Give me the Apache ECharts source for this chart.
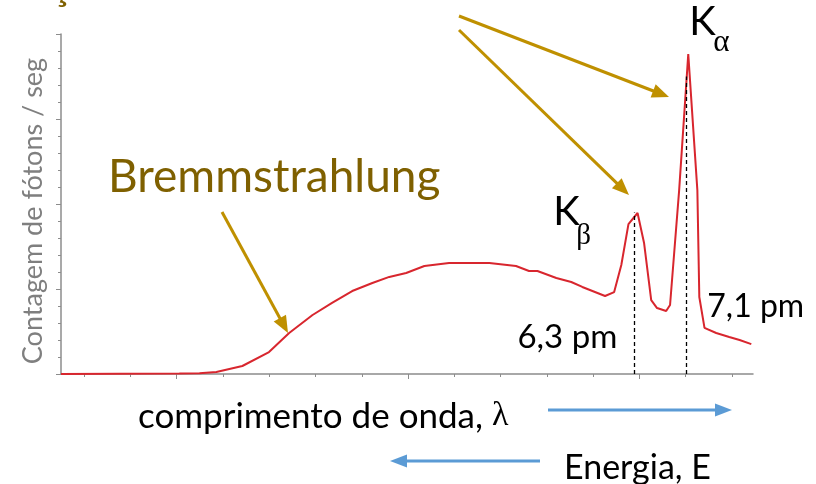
<!DOCTYPE html>
<html>
<head>
<meta charset="utf-8">
<script src="https://cdn.jsdelivr.net/npm/echarts@6/dist/echarts.min.js"></script>
<style>
  html, body { margin: 0; padding: 0; background: #ffffff; }
  #chart { width: 816px; height: 484px; }
</style>
</head>
<body>
<div id="chart"></div>
<script>
// Wavelength (pm) and photon count rate (arbitrary units) of the X-ray spectrum
const lambdaPm = [-2.52, -0.70, -0.39, -0.13, 0.27, 0.68, 0.99, 1.35, 1.65, 1.96, 2.27, 2.53, 2.79,
  3.07, 3.45, 4.07, 4.48, 4.68, 4.81, 5.10, 5.33, 5.50, 5.85, 5.99, 6.10, 6.21, 6.35, 6.45, 6.56,
  6.65, 6.79, 6.85, 6.99, 7.13, 7.27, 7.30, 7.38, 7.56, 7.76, 7.92, 8.10];
const counts = [0.00, 0.03, 0.05, 0.12, 0.47, 1.29, 2.41, 3.47, 4.18, 4.88, 5.35, 5.71, 5.94,
  6.35, 6.53, 6.53, 6.35, 6.06, 6.06, 5.65, 5.41, 5.12, 4.59, 4.82, 6.41, 8.82, 9.47, 7.71, 4.35,
  3.88, 3.71, 4.06, 10.82, 18.82, 10.82, 4.53, 2.71, 2.41, 2.18, 2.00, 1.76];

// Characteristic lines: Kβ and Kα wavelengths, their peak heights and labels
const lineNames = ['β', 'α'];
const linePm = [6.3, 7.1];
const lineTop = [9.5, 17.5];
const lineLabels = ['6,3 pm', '7,1 pm'];

// Tick positions along the wavelength axis (pm); every fifth one is a major tick
const xTicks = [-2.16, -1.45, -0.74, -0.03, 0.68, 1.39, 2.11, 2.82, 3.53, 4.24, 4.96, 5.67, 6.38, 7.09, 7.80];
const xMajorTicks = [-0.74, 2.82, 6.38];

const GOLD = '#bf9000';
const OLIVE = '#7f6000';
const BLUE = '#5b9bd5';
const SANS = 'Lato, "Open Sans", sans-serif';
const SERIF = '"Liberation Serif", "DejaVu Serif", serif';

// Straight arrow with a filled triangular head, built from a line and a polygon
function arrow(x1, y1, x2, y2, color, width, headLen, headW) {
  const dx = x2 - x1, dy = y2 - y1;
  const len = Math.sqrt(dx * dx + dy * dy);
  const ux = dx / len, uy = dy / len;
  const bx = x2 - ux * headLen, by = y2 - uy * headLen;
  const px = -uy * headW / 2, py = ux * headW / 2;
  return [
    { type: 'line', silent: true,
      shape: { x1: x1, y1: y1, x2: bx + ux, y2: by + uy },
      style: { stroke: color, lineWidth: width } },
    { type: 'polygon', silent: true,
      shape: { points: [[x2, y2], [bx + px, by + py], [bx - px, by - py]] },
      style: { fill: color } }
  ];
}

function text(x, y, str, size, color, family, align) {
  return { type: 'text', x: x, y: y, silent: true,
    style: { text: str, fill: color, font: size + 'px ' + family,
      textAlign: align || 'left', textVerticalAlign: 'bottom' } };
}

const chart = echarts.init(document.getElementById('chart'), null, { renderer: 'canvas' });

const axisGrey = '#8c8c8c';

const option = {
  animation: false,
  backgroundColor: '#ffffff',
  grid: { left: 61, right: 63, top: 34, bottom: 110 },
  xAxis: [
    {
      type: 'value', min: -2.52, max: 8.126,
      axisLine: { show: true, onZero: false, lineStyle: { color: axisGrey, width: 1.5 } },
      axisTick: { show: true, length: 3, customValues: xTicks, lineStyle: { color: axisGrey, width: 1 } },
      axisLabel: { show: false },
      splitLine: { show: false }
    },
    {
      type: 'value', min: -2.52, max: 8.126, position: 'bottom',
      axisLine: { show: false, onZero: false },
      axisTick: { show: true, length: 5, customValues: xMajorTicks, lineStyle: { color: axisGrey, width: 1 } },
      axisLabel: { show: false },
      splitLine: { show: false }
    }
  ],
  yAxis: {
    type: 'value', min: 0, max: 20, interval: 5,
    name: 'Contagem de fótons / seg',
    nameLocation: 'middle', nameGap: 14, nameRotate: 90,
    nameTextStyle: { color: '#7f7f7f', fontSize: 27, fontFamily: SANS, padding: [0, 0, 0, -14] },
    axisLine: { show: true, onZero: false, lineStyle: { color: axisGrey, width: 1.5 } },
    axisTick: { show: true, length: 5, lineStyle: { color: axisGrey, width: 1 } },
    minorTick: { show: true, splitNumber: 5, length: 3, lineStyle: { color: axisGrey, width: 1 } },
    axisLabel: { show: false },
    splitLine: { show: false },
    minorSplitLine: { show: false }
  },
  series: [
    {
      type: 'line',
      data: lambdaPm.map((x, i) => [x, counts[i]]),
      symbol: 'none',
      smooth: false,
      lineStyle: { color: '#d8262e', width: 2 },
      z: 3,
      markLine: {
        silent: true,
        symbol: ['none', 'none'],
        label: { show: false },
        lineStyle: { color: '#000000', width: 1.3, type: [4, 3] },
        data: linePm.map((x, i) => [{ coord: [x, 0] }, { coord: [x, lineTop[i]] }])
      }
    }
  ]
};

chart.setOption(option);

// Annotations placed after the axes exist, so the line labels follow the data scale
const pK = linePm.map((x, i) => chart.convertToPixel({ xAxisIndex: 0, yAxisIndex: 0 }, [x, lineTop[i]]));
const pBase = linePm.map(x => chart.convertToPixel({ xAxisIndex: 0, yAxisIndex: 0 }, [x, 0]));

const graphics = [].concat(
  // title of the characteristic lines, mostly outside the top edge
  [text(-60, 8, 'Transições características', 43, OLIVE, SANS)],
  arrow(459, 16, 669, 97, GOLD, 3, 17, 14),
  arrow(459, 30, 629, 195, GOLD, 3, 17, 14),
  [text(108, 200, 'Bremmstrahlung', 46, OLIVE, SANS)],
  arrow(222, 212, 288, 333, GOLD, 3, 17, 14),
  // K line labels
  [text(pK[0][0] - 81, 232, 'K', 40, '#000000', SANS)],
  [text(pK[0][0] - 58, 251, lineNames[0], 29, '#000000', SERIF)],
  [text(pK[1][0] + 3, 42, 'K', 40, '#000000', SANS)],
  [text(pK[1][0] + 27, 58, lineNames[1], 31, '#000000', SERIF)],
  // wavelength labels next to the dashed lines
  [text(pBase[0][0] - 17, 354, lineLabels[0], 33, '#000000', SANS, 'right')],
  [text(pBase[1][0] + 21, 323, lineLabels[1], 32, '#000000', SANS)],
  // axis captions
  [{ type: 'text', x: 138, y: 434, silent: true,
     style: { text: '{a|comprimento de onda, }{b|λ}', textVerticalAlign: 'bottom',
       rich: { a: { font: '35px ' + SANS, fill: '#000000' },
               b: { font: '34px ' + SERIF, fill: '#000000' } } } }],
  arrow(548, 410, 732, 410, BLUE, 3, 17, 13),
  [text(564, 485, 'Energia, E', 34, '#000000', SANS)],
  arrow(540, 461, 390, 461, BLUE, 3, 17, 13)
);

chart.setOption({ graphic: { elements: graphics } });
</script>
</body>
</html>
